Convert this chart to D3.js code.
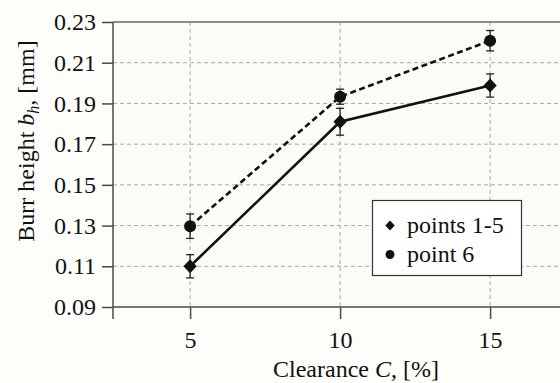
<!DOCTYPE html>
<html>
<head>
<meta charset="utf-8">
<script src="https://cdn.jsdelivr.net/npm/d3@7"></script>
<style>
  html, body { margin: 0; padding: 0; background: #fdfdfa; }
  svg { display: block; }
  svg text { font-family: "Liberation Serif", "Times New Roman", serif !important; }
</style>
</head>
<body>
<svg id="chart" width="560" height="383"></svg>
<script>
// ---- data ----
const clearance = [5, 10, 15];
const pts15 = [0.110, 0.181, 0.1988];
const pts15Err = [0.0057, 0.0066, 0.0057];
const pt6 = [0.1297, 0.1933, 0.2208];
const pt6Err = [0.006, 0.0037, 0.005];
const yTicks = [0.09, 0.11, 0.13, 0.15, 0.17, 0.19, 0.21, 0.23];
const xTicks = [5, 10, 15];
const seriesNames = ["points 1-5", "point 6"];

// ---- layout ----
const W = 560, H = 383;
const pL = 113, pR = 560, pT = 22, pB = 307;
const svg = d3.select("#chart");

const x = d3.scaleLinear().domain([2.43, 17.33]).range([pL, pR]);
const y = d3.scaleLinear().domain([0.09, 0.23]).range([pB, pT]);

const axisColor = "#4a4a4a";
const fontSize = 24;

// plot background
svg.append("rect").attr("x", pL).attr("y", pT)
  .attr("width", pR - pL).attr("height", pB - pT)
  .attr("fill", "#fcfcf7");

// grid
const grid = svg.append("g").attr("stroke", "#a8a8a8").attr("stroke-width", 1)
  .attr("stroke-dasharray", "4,3");
grid.selectAll("line.h").data(yTicks.slice(1, -1)).join("line")
  .attr("x1", pL).attr("x2", pR)
  .attr("y1", d => y(d)).attr("y2", d => y(d));
grid.selectAll("line.v").data(xTicks).join("line")
  .attr("x1", d => x(d)).attr("x2", d => x(d))
  .attr("y1", pT).attr("y2", pB);

// axes
const yAxis = d3.axisLeft(y).tickValues(yTicks).tickFormat(d3.format(".2f"))
  .tickSize(11).tickSizeOuter(0).tickPadding(6);
const gy = svg.append("g").attr("transform", `translate(${pL},0)`).call(yAxis);
gy.select(".domain").remove();
gy.selectAll("line").attr("stroke", axisColor).attr("stroke-width", 1.5);
gy.selectAll("text").style("font-size", fontSize + "px").attr("fill", "#111");

const xAxis = d3.axisBottom(x).tickValues(xTicks).tickFormat(d3.format("d"))
  .tickSize(12).tickSizeOuter(0).tickPadding(12);
const gx = svg.append("g").attr("transform", `translate(0,${pB})`).call(xAxis);
gx.select(".domain").remove();
gx.selectAll("line").attr("stroke", axisColor).attr("stroke-width", 1.5);
gx.selectAll("text").style("font-size", fontSize + "px").attr("fill", "#111");

// axis lines
svg.append("line").attr("x1", pL).attr("x2", pR).attr("y1", pB).attr("y2", pB)
  .attr("stroke", axisColor).attr("stroke-width", 1.5);
svg.append("line").attr("x1", pL).attr("x2", pL).attr("y1", pT).attr("y2", pB + 12)
  .attr("stroke", axisColor).attr("stroke-width", 1.5);
svg.append("line").attr("x1", pL).attr("x2", pR).attr("y1", pT).attr("y2", pT)
  .attr("stroke", "#666").attr("stroke-width", 1.5);

// custom diamond symbol (square rotated, slightly tall)
const diamondType = {
  draw(ctx, size) {
    const r = Math.sqrt(size / 2);
    const w = r * 0.95;
    ctx.moveTo(0, -r); ctx.lineTo(w, 0); ctx.lineTo(0, r); ctx.lineTo(-w, 0); ctx.closePath();
  }
};

function drawSeries(vals, errs, dashed, symbolType, symSize) {
  const g = svg.append("g");
  const line = d3.line().x((d, i) => x(clearance[i])).y(d => y(d));
  g.append("path").datum(vals).attr("d", line).attr("fill", "none")
    .attr("stroke", "#111").attr("stroke-width", 2.6)
    .attr("stroke-dasharray", dashed ? "6,3.5" : null);
  const eb = g.append("g").attr("stroke", "#222").attr("stroke-width", 1.3);
  vals.forEach((v, i) => {
    const cx = x(clearance[i]);
    eb.append("line").attr("x1", cx).attr("x2", cx).attr("y1", y(v - errs[i])).attr("y2", y(v + errs[i]));
    eb.append("line").attr("x1", cx - 4).attr("x2", cx + 4).attr("y1", y(v - errs[i])).attr("y2", y(v - errs[i]));
    eb.append("line").attr("x1", cx - 4).attr("x2", cx + 4).attr("y1", y(v + errs[i])).attr("y2", y(v + errs[i]));
  });
  g.selectAll("path.sym").data(vals).join("path").attr("class", "sym")
    .attr("transform", (d, i) => `translate(${x(clearance[i])},${y(d)})`)
    .attr("d", d3.symbol().type(symbolType).size(symSize))
    .attr("fill", "#111");
}
drawSeries(pts15, pts15Err, false, diamondType, 98);
drawSeries(pt6, pt6Err, true, d3.symbolCircle, Math.PI * 36);

// legend
const lg = svg.append("g");
lg.append("rect").attr("x", 372.5).attr("y", 200.5).attr("width", 149).attr("height", 75)
  .attr("fill", "#fff").attr("stroke", "#333").attr("stroke-width", 1.2);
const legendRows = [
  { name: seriesNames[0], type: diamondType, size: 50, cy: 225.5 },
  { name: seriesNames[1], type: d3.symbolCircle, size: Math.PI * 20, cy: 254.5 }
];
legendRows.forEach(r => {
  lg.append("path").attr("transform", `translate(390,${r.cy})`)
    .attr("d", d3.symbol().type(r.type).size(r.size)).attr("fill", "#111");
  lg.append("text").attr("x", 407).attr("y", r.cy).attr("dy", "0.32em")
    .style("font-size", fontSize + "px").attr("fill", "#111").text(r.name);
});

// axis titles
const xt = svg.append("text").attr("x", 356).attr("y", 377).attr("text-anchor", "middle")
  .style("font-size", fontSize + "px").attr("fill", "#111");
xt.append("tspan").text("Clearance ");
xt.append("tspan").attr("font-style", "italic").text("C");
xt.append("tspan").text(", [%]");

const yt = svg.append("text").attr("transform", "translate(34,141) rotate(-90)")
  .attr("text-anchor", "middle").style("font-size", fontSize + "px").attr("fill", "#111");
yt.append("tspan").text("Burr height ");
yt.append("tspan").attr("font-style", "italic").text("b");
yt.append("tspan").attr("font-style", "italic").style("font-size", "16px").attr("dy", 5).text("h");
yt.append("tspan").attr("dy", -5).text(", [mm]");
</script>
</body>
</html>
